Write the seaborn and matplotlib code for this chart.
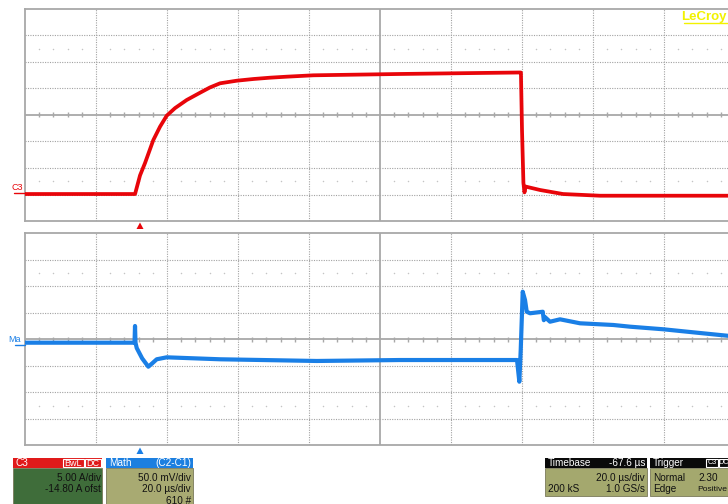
import matplotlib
matplotlib.use("Agg")
import matplotlib.pyplot as plt
from matplotlib.patches import Rectangle, Polygon
from matplotlib.lines import Line2D
import pandas as pd
import seaborn as sns

# ---- acquisition settings -------------------------------------------------
TIME_PER_DIV_US = 20.0
TRIGGER_DELAY_US = 67.6          # screen centre relative to the trigger point
C3_A_PER_DIV = 5.0
C3_OFFSET_A = -14.80
MATH_MV_PER_DIV = 50.0

# ---- C3: current probe (A) vs time after trigger (us) ----------------------
c3_time_us = [-32.4, -1.4, 0.0, 1.41, 3.75, 5.63, 7.52, 9.86, 13.15, 16.9,
              19.7, 22.54, 27.24, 31.92, 36.62, 41.32, 48.82, 73.24, 95.77,
              107.04, 107.3, 107.6, 108.0, 108.3, 108.6, 112.68, 119.15,
              129.58, 167.6]
c3_current_a = [-0.11, -0.11, 3.4, 5.74, 10.08, 12.59, 14.67, 16.1, 17.63, 19.0,
                20.0, 20.78, 21.27, 21.59, 21.84, 22.03, 22.29, 22.54, 22.73,
                22.82, 22.8, 12.0, 2.0, 0.2, 1.3, 0.65, -0.11,
                -0.43, -0.43]

# ---- Math: C2-C1 (mV) vs time after trigger (us) ----------------------------
math_time_us = [-32.4, -1.55, -1.41, -1.27, -0.93, 0.6, 2.34, 3.5, 4.70, 7.52,
                22.54, 49.77, 73.24, 106.2, 106.85, 107.24, 107.8, 108.45,
                108.93, 109.86, 113.45, 113.75, 114.05, 115.49, 118.31, 123.94,
                133.32, 138.03, 147.41, 156.82, 163.38, 167.6]
math_mv = [-6.4, -6.4, 25.1, -6.4, -16.4, -36.0, -51.7, -45.0, -37.7, -34.0,
           -37.7, -40.9, -39.1, -39.1, -80.0, -20.0, 89.8, 74.2,
           52.1, 49.1, 52.0, 36.0, 42.0, 33.2, 37.7, 30.2,
           27.0, 23.8, 18.9, 12.5, 8.1, 5.3]

# ---- info box texts -------------------------------------------------------
c3_box = ["C3", "BwL", "DC", "5.00 A/div", "-14.80 A ofst"]
math_box = ["Math", "(C2-C1)", "50.0 mV/div", "20.0 µs/div", "610 #"]
timebase_box = ["Timebase", "-67.6 µs", "20.0 µs/div", "200 kS", "1.0 GS/s"]
trigger_box = ["Trigger", "C3", "DC", "Normal", "2.30", "Edge", "Positive"]

RED = "#e8050a"
BLUE = "#1a7fe6"
GRID = "#a2a2a2"
FRAME = "#a8a8a8"

sns.set_style("white")
plt.rcParams["font.family"] = ["Liberation Sans", "DejaVu Sans"]

W, H = 728, 504
fig = plt.figure(figsize=(W / 100, H / 100), dpi=100)
fig.patch.set_facecolor("white")


def fx(px):
    return px / W


def fy(py):
    return 1 - py / H


x_left = TRIGGER_DELAY_US - 5 * TIME_PER_DIV_US
x_right = TRIGGER_DELAY_US + 5 * TIME_PER_DIV_US


def graticule(ax, centre, per_div):
    ax.set_xlim(x_left, x_right)
    ax.set_ylim(centre - 4 * per_div, centre + 4 * per_div)
    ax.set_xticks([])
    ax.set_yticks([])
    for s in ax.spines.values():
        s.set_color(FRAME)
        s.set_linewidth(1.3)
    # dotted divisions
    for k in range(1, 10):
        if k == 5:
            continue
        ax.axvline(x_left + k * TIME_PER_DIV_US, color=GRID, lw=0.8,
                   ls=(0, (1, 1.2)), zorder=1)
    for k in (-3, -2, -1, 1, 2, 3):
        ax.axhline(centre + k * per_div, color=GRID, lw=0.8,
                   ls=(0, (1, 1.2)), zorder=1)
    # solid centre axes with minor ticks
    ax.axvline(TRIGGER_DELAY_US, color=FRAME, lw=1.3, zorder=1)
    ax.axhline(centre, color=FRAME, lw=1.3, zorder=1)
    trans = ax.get_xaxis_transform()
    minor = [x_left + i * TIME_PER_DIV_US / 5 for i in range(1, 50) if i % 5]
    ax.vlines(minor, 0.5 - 2.5 / 212, 0.5 + 2.5 / 212, color=FRAME, lw=1.0,
              transform=trans, zorder=1)
    # faint half-division dot rows
    for yy in (0.5 - 2.5 / 8, 0.5 + 2.5 / 8):
        ax.scatter(minor, [yy] * len(minor), s=1.2, color="#c4c4c4",
                   transform=trans, zorder=1, linewidths=0)


c3_centre = -C3_OFFSET_A
ax_top = fig.add_axes([fx(25), fy(221), 710 / W, 212 / H])
graticule(ax_top, c3_centre, C3_A_PER_DIV)
c3_df = pd.DataFrame({"t": c3_time_us, "i": c3_current_a})
sns.lineplot(data=c3_df, x="t", y="i", ax=ax_top, color=RED, lw=2.7,
             sort=False, estimator=None, zorder=3)
ax_top.set_xlabel("")
ax_top.set_ylabel("")

ax_bot = fig.add_axes([fx(25), fy(445.3), 710 / W, 212 / H])
graticule(ax_bot, 0.0, MATH_MV_PER_DIV)
math_df = pd.DataFrame({"t": math_time_us, "v": math_mv})
sns.lineplot(data=math_df, x="t", y="v", ax=ax_bot, color=BLUE, lw=3.0,
             sort=False, estimator=None, zorder=3)
ax_bot.set_xlabel("")
ax_bot.set_ylabel("")

# channel markers at the left edge
fig.text(fx(12), fy(187), "C3", color=RED, fontsize=6.5, va="center", ha="left")
fig.add_artist(Line2D([fx(14), fx(25)], [fy(193), fy(193)], color=RED, lw=1.0))
fig.text(fx(8), fy(339), "Ma", color=BLUE, fontsize=6.5, va="center", ha="left")
fig.add_artist(Line2D([fx(15), fx(25)], [fy(345), fy(345)], color=BLUE, lw=1.0))


# trigger position markers
def tri(cx, cy, color):
    fig.add_artist(Polygon([(fx(cx - 3.5), fy(cy + 3)), (fx(cx + 3.5), fy(cy + 3)),
                            (fx(cx), fy(cy - 3.5))], closed=True,
                           facecolor=color, edgecolor="none"))


tri(140, 226, RED)
tri(140, 451, BLUE)

# brand
fig.text(fx(727), fy(17), "LeCroy", color="#f2f200", fontsize=9.5, va="center",
         ha="right", fontweight="bold")
fig.add_artist(Line2D([fx(684), fx(728)], [fy(23), fy(23)], color="#f2f200", lw=1.0))


def box(x0, x1, y0, yh, y1, head_color, body_color):
    fig.add_artist(Rectangle((fx(x0), fy(y1)), fx(x1) - fx(x0), fy(yh) - fy(y1),
                             facecolor=body_color, edgecolor="#7a7a5a", lw=0.6))
    fig.add_artist(Rectangle((fx(x0), fy(yh)), fx(x1) - fx(x0), fy(y0) - fy(yh),
                             facecolor=head_color, edgecolor="none"))


FS = 7.2
# C3 box
box(13, 102, 457.5, 468, 505, "#e01a1a", "#3f6d3a")
fig.text(fx(16), fy(463), c3_box[0], color="white", fontsize=FS, va="center")
for label, xa, xb in ((c3_box[1], 63, 83.5), (c3_box[2], 85, 100.5)):
    fig.add_artist(Rectangle((fx(xa), fy(467)), fx(xb) - fx(xa), fy(459) - fy(467),
                             facecolor="#e01a1a", edgecolor="white", lw=0.8))
    fig.text(fx((xa + xb) / 2), fy(463), label, color="white", fontsize=6.5,
             va="center", ha="center")
fig.text(fx(101), fy(478), c3_box[3], color="#111111", fontsize=FS, va="center", ha="right")
fig.text(fx(101), fy(489.5), c3_box[4], color="#111111", fontsize=FS, va="center", ha="right")

# Math box
box(106, 193, 457.5, 468, 505, "#1c7fe0", "#a8aa72")
fig.text(fx(109), fy(463), math_box[0], color="white", fontsize=FS, va="center")
fig.text(fx(191), fy(463), math_box[1], color="white", fontsize=FS, va="center", ha="right")
fig.text(fx(191), fy(478), math_box[2], color="#111111", fontsize=FS, va="center", ha="right")
fig.text(fx(191), fy(489.5), math_box[3], color="#111111", fontsize=FS, va="center", ha="right")
fig.text(fx(191), fy(500.5), math_box[4], color="#111111", fontsize=FS, va="center", ha="right")

# Timebase box
box(545, 647, 457.5, 468, 495.5, "#0a0a0a", "#a4a86e")
fig.text(fx(548), fy(463), timebase_box[0], color="white", fontsize=FS, va="center")
fig.text(fx(645), fy(463), timebase_box[1], color="white", fontsize=FS, va="center", ha="right")
fig.text(fx(645), fy(478), timebase_box[2], color="#111111", fontsize=FS, va="center", ha="right")
fig.text(fx(548), fy(489.5), timebase_box[3], color="#111111", fontsize=FS, va="center")
fig.text(fx(645), fy(489.5), timebase_box[4], color="#111111", fontsize=FS, va="center", ha="right")

# Trigger box
box(650, 760, 457.5, 468, 495.5, "#0a0a0a", "#a4a86e")
fig.text(fx(653), fy(463), trigger_box[0], color="white", fontsize=FS, va="center")
for label, xa, xb in ((trigger_box[1], 706, 717.5), (trigger_box[2], 719, 728)):
    fig.add_artist(Rectangle((fx(xa), fy(467)), fx(xb) - fx(xa), fy(459) - fy(467),
                             facecolor="#0a0a0a", edgecolor="white", lw=0.8))
    fig.text(fx((xa + xb) / 2), fy(463), label, color="white", fontsize=5.2,
             va="center", ha="center")
fig.text(fx(653), fy(478), trigger_box[3], color="#111111", fontsize=FS, va="center")
fig.text(fx(718), fy(478), trigger_box[4], color="#111111", fontsize=FS, va="center", ha="right")
fig.text(fx(653), fy(489.5), trigger_box[5], color="#111111", fontsize=FS, va="center")
fig.text(fx(727), fy(489.5), trigger_box[6], color="#111111", fontsize=6.1, va="center", ha="right")

fig.savefig("out.png", dpi=100)
